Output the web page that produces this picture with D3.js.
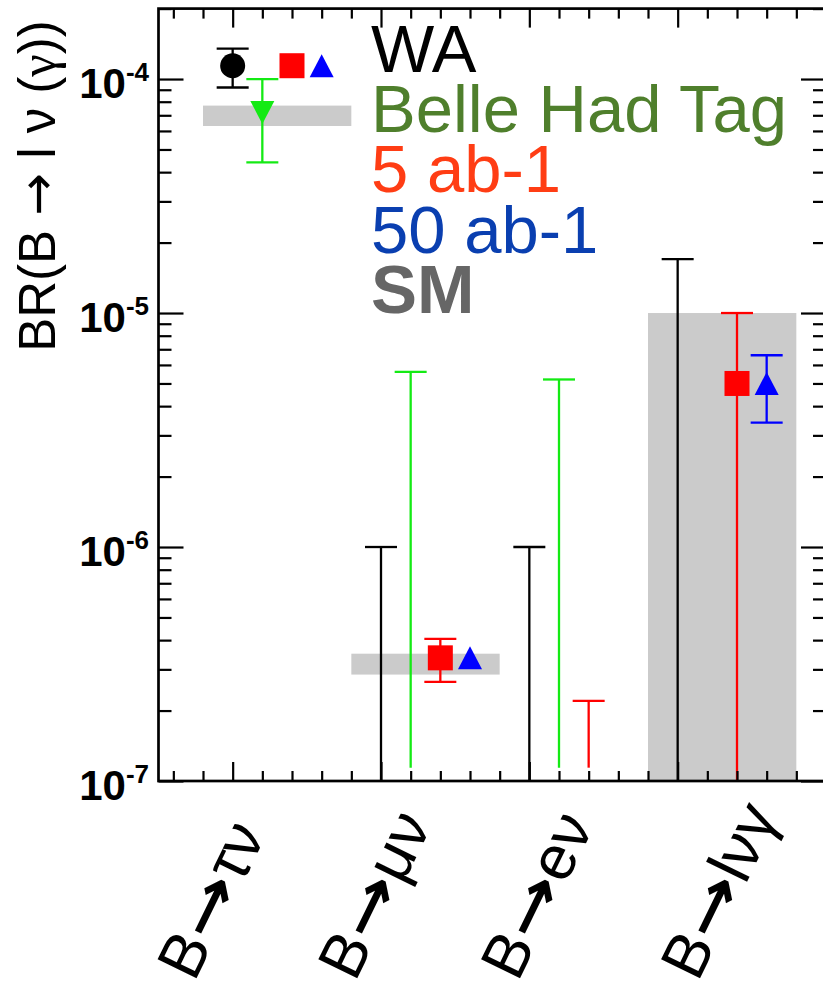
<!DOCTYPE html>
<html>
<head>
<meta charset="utf-8">
<script src="https://cdn.jsdelivr.net/npm/d3@7"></script>
<style>
  html, body { margin: 0; padding: 0; background: #fff; }
  svg { display: block; }
  svg { font-family: "Liberation Sans", Arial, Helvetica, sans-serif; }
</style>
</head>
<body>
<div id="chart"></div>
<script>
// ---------------- data ----------------
const categories = ["B\u2192\u03C4\u03BD", "B\u2192\u03BC\u03BD", "B\u2192e\u03BD", "B\u2192l\u03BD\u03B3"];

// Standard Model bands
const smLow  = [6.3e-5, 2.85e-7, null, 1.0e-7];
const smHigh = [7.7e-5, 3.5e-7,  null, 1.0e-5];

// World average (measurement for tau nu, upper limits for the rest)
const waCentral = [1.14e-4, null, null, null];
const waLow     = [0.92e-4, 1.0e-7, 1.0e-7, 1.0e-7];
const waHigh    = [1.35e-4, 1.0e-6, 1.0e-6, 1.7e-5];

// Belle hadronic tag
const belleCentral = [7.2e-5, null, null, null];
const belleLow     = [4.4e-5, 1.14e-7, 1.14e-7, null];
const belleHigh    = [1.0e-4, 5.6e-6, 5.2e-6, null];

// Belle II 5 ab-1 projection
const lumi5Central = [1.14e-4, 3.36e-7, null, 5.0e-6];
const lumi5Low     = [null, 2.65e-7, 1.14e-7, 5.0e-8];
const lumi5High    = [null, 4.05e-7, 2.2e-7, 1.0e-5];

// Belle II 50 ab-1 projection
const lumi50Central = [1.14e-4, 3.36e-7, null, 5.0e-6];
const lumi50Low     = [null, null, null, 3.4e-6];
const lumi50High    = [null, null, null, 6.6e-6];

const legendLabels = ["WA", "Belle Had Tag", "5 ab-1", "50 ab-1", "SM"];
const yTickExponents = [-4, -5, -6, -7];
const yAxisTitle = "BR(B \u2192 l \u03BD (\u03B3))";

(function () {
// ---------------- layout ----------------
const W = 823, H = 989;
const pL = 158.5, pR = 826, pT = 8.6, pB = 781;

const svg = d3.select("#chart").append("svg").attr("width", W).attr("height", H);

const x = d3.scaleLinear().domain([-0.5, 4.0]).range([pL, pR]);
const y = d3.scaleLog().domain([1e-7, 2e-4]).range([pB, pT]);

svg.append("defs").append("clipPath").attr("id", "plotclip")
  .append("rect").attr("x", pL).attr("y", pT).attr("width", pR - pL).attr("height", pB - pT);

const plot = svg.append("g").attr("clip-path", "url(#plotclip)");

// SM bands
const bandColor = "#cbcbcb";
categories.forEach((c, i) => {
  if (smLow[i] == null) return;
  plot.append("rect")
    .attr("x", x(i - 0.2)).attr("width", x(i + 0.8) - x(i - 0.2))
    .attr("y", y(smHigh[i])).attr("height", y(smLow[i]) - y(smHigh[i]))
    .attr("fill", bandColor);
});

const capW = 32;
function errBar(cx, lo, hi, hasCentral, color) {
  if (hi == null) return;
  const g = plot.append("g").attr("stroke", color).attr("stroke-width", 2.3).attr("fill", "none");
  g.append("line").attr("x1", cx).attr("x2", cx).attr("y1", y(lo)).attr("y2", y(hi));
  g.append("line").attr("x1", cx - capW / 2).attr("x2", cx + capW / 2).attr("y1", y(hi)).attr("y2", y(hi));
  if (hasCentral) {
    g.append("line").attr("x1", cx - capW / 2).attr("x2", cx + capW / 2).attr("y1", y(lo)).attr("y2", y(lo));
  }
}

const series = [
  { c: waCentral, lo: waLow, hi: waHigh, off: 0.0, color: "#000000", marker: "circle" },
  { c: belleCentral, lo: belleLow, hi: belleHigh, off: 0.2, color: "#14ea14", marker: "tridown" },
  { c: lumi5Central, lo: lumi5Low, hi: lumi5High, off: 0.4, color: "#ff0000", marker: "square" },
  { c: lumi50Central, lo: lumi50Low, hi: lumi50High, off: 0.6, color: "#0000ff", marker: "triup" }
];

series.forEach(s => {
  categories.forEach((cat, i) => {
    const cx = x(i + s.off);
    errBar(cx, s.lo[i], s.hi[i], s.c[i] != null, s.color);
    if (s.c[i] != null) {
      const cy = y(s.c[i]);
      if (s.marker === "circle") {
        plot.append("circle").attr("cx", cx).attr("cy", cy).attr("r", 12.5).attr("fill", s.color);
      } else if (s.marker === "square") {
        plot.append("rect").attr("x", cx - 12.5).attr("y", cy - 12.5).attr("width", 25).attr("height", 25).attr("fill", s.color);
      } else if (s.marker === "triup") {
        plot.append("path").attr("d", `M${cx - 12},${cy + 11.5}L${cx + 12},${cy + 11.5}L${cx},${cy - 11.5}Z`).attr("fill", s.color);
      } else if (s.marker === "tridown") {
        plot.append("path").attr("d", `M${cx - 12},${cy - 11.5}L${cx + 12},${cy - 11.5}L${cx},${cy + 11.5}Z`).attr("fill", s.color);
      }
    }
  });
});

// ---------------- axes ----------------
const yMajor = [1e-7, 1e-6, 1e-5, 1e-4];
const yMinor = [];
for (let e = -7; e <= -4; e++) for (let m = 2; m <= 9; m++) {
  const v = m * Math.pow(10, e);
  if (v <= 2e-4) yMinor.push(v);
}
const xMajor = d3.range(0, 4);
const xMinor = d3.range(-0.4, 4.0, 0.2).filter(v => Math.abs(v - Math.round(v)) > 0.05);

function styleAxis(g) {
  g.select(".domain").remove();
  g.selectAll(".tick line").attr("stroke", "#000").attr("stroke-width", 2.2);
  g.selectAll(".tick text").remove();
}

svg.append("g").attr("transform", `translate(${pL},0)`)
  .call(d3.axisLeft(y).tickValues(yMajor).tickSize(-25).tickSizeOuter(0).tickFormat("")).call(styleAxis);
svg.append("g").attr("transform", `translate(${pL},0)`)
  .call(d3.axisLeft(y).tickValues(yMinor).tickSize(-13).tickSizeOuter(0).tickFormat("")).call(styleAxis);
svg.append("g").attr("transform", `translate(${pR},0)`)
  .call(d3.axisRight(y).tickValues(yMajor).tickSize(-25).tickSizeOuter(0).tickFormat("")).call(styleAxis);
svg.append("g").attr("transform", `translate(${pR},0)`)
  .call(d3.axisRight(y).tickValues(yMinor).tickSize(-13).tickSizeOuter(0).tickFormat("")).call(styleAxis);
svg.append("g").attr("transform", `translate(0,${pB})`)
  .call(d3.axisBottom(x).tickValues(xMajor).tickSize(-19).tickSizeOuter(0).tickFormat("")).call(styleAxis);
svg.append("g").attr("transform", `translate(0,${pB})`)
  .call(d3.axisBottom(x).tickValues(xMinor).tickSize(-10).tickSizeOuter(0).tickFormat("")).call(styleAxis);
svg.append("g").attr("transform", `translate(0,${pT})`)
  .call(d3.axisTop(x).tickValues(xMajor).tickSize(-19).tickSizeOuter(0).tickFormat("")).call(styleAxis);
svg.append("g").attr("transform", `translate(0,${pT})`)
  .call(d3.axisTop(x).tickValues(xMinor).tickSize(-10).tickSizeOuter(0).tickFormat("")).call(styleAxis);

// frame
svg.append("rect").attr("x", pL).attr("y", pT).attr("width", pR - pL).attr("height", pB - pT)
  .attr("fill", "none").attr("stroke", "#000").attr("stroke-width", 2.7);

const baseFont = "'Liberation Sans', Arial, Helvetica, sans-serif";

// y tick labels
yTickExponents.forEach(e => {
  const ty = y(Math.pow(10, e));
  const t = svg.append("text").attr("x", 149).attr("y", ty + 19)
    .style("font-family", baseFont)
    .attr("text-anchor", "end").attr("font-weight", "bold").attr("font-size", 42).attr("fill", "#000");
  t.append("tspan").text("10");
  t.append("tspan").attr("font-size", 26).attr("dy", -17).text(String(e));
});

// y axis title
const yt = svg.append("text")
  .attr("transform", `translate(55,186) rotate(-90)`)
  .style("font-family", baseFont)
  .attr("text-anchor", "middle").attr("font-size", 51).attr("fill", "#000");
for (const ch of yAxisTitle) {
  const sp = yt.append("tspan").text(ch);
  if (ch === "\u2192") sp.style("font-family", "'DejaVu Sans'");
  if (ch === "\u03B3") sp.style("font-family", "'Liberation Serif'");
}

// x category labels (rotated), built as pieces so the arrow can be stretched
const labelDx = [-38.5, -26, -11.5, 20];
const labFont = 63, arrowScale = 1.3;
categories.forEach((c, i) => {
  const g = svg.append("g")
    .attr("transform", `translate(${x(i) + labelDx[i]},983) rotate(-64)`);
  const parts = c.split("\u2192");
  const t1 = g.append("text").attr("x", 0).attr("y", 0).style("font-family", baseFont)
    .attr("font-size", labFont).attr("fill", "#000").text(parts[0]);
  const w1 = t1.node().getComputedTextLength();
  const a = g.append("text").attr("transform", `translate(${w1 + 1},0) scale(${arrowScale},1)`)
    .style("font-family", "'DejaVu Sans'").attr("font-weight", "bold").attr("font-size", labFont - 3)
    .attr("fill", "#000").text("\u2192");
  const wa = a.node().getComputedTextLength() * arrowScale;
  g.append("text").attr("x", w1 + 1 + wa).attr("y", 0).style("font-family", baseFont)
    .attr("font-size", labFont).attr("fill", "#000").text(parts[1]);
});

// legend
const legendColors = ["#000000", "#4f7f2c", "#ff3d14", "#0a3fb0", "#666666"];
legendLabels.forEach((l, i) => {
  svg.append("text")
    .attr("x", 371).attr("y", 72 + i * 60.2)
    .style("font-family", baseFont)
    .attr("font-size", i === 4 ? 69 : 67)
    .attr("font-weight", i === 4 ? "bold" : "normal")
    .attr("fill", legendColors[i])
    .text(l);
});
})();
</script>
</body>
</html>
